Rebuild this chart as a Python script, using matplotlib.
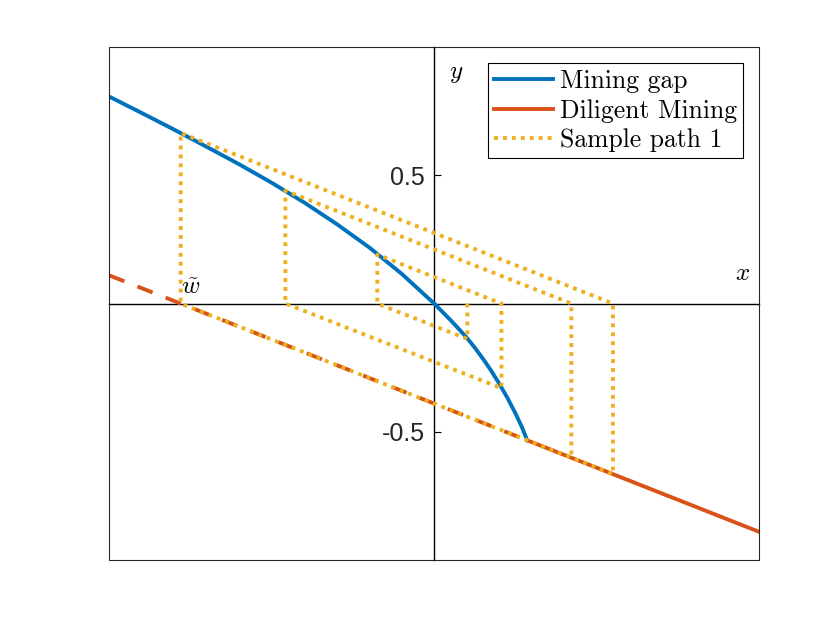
import matplotlib
matplotlib.use('Agg')
import matplotlib.pyplot as plt
from matplotlib.patches import Rectangle

plt.rcParams['mathtext.fontset'] = 'cm'
plt.rcParams['axes.unicode_minus'] = False

# mining gap curve
gap_x = [-1.0, -0.9, -0.8, -0.7, -0.6, -0.5, -0.4, -0.3, -0.2, -0.1,
         0.0, 0.05, 0.075, 0.1, 0.125, 0.15, 0.175, 0.2, 0.225, 0.25,
         0.27, 0.286]
gap_y = [0.807, 0.743, 0.678, 0.611, 0.543, 0.471, 0.394, 0.310, 0.219, 0.116,
         0.0, -0.064, -0.098, -0.133, -0.172, -0.215, -0.261, -0.312, -0.367,
         -0.428, -0.482, -0.533]

# diligent mining line: dashed part and solid part
dil_dash_x = [-1.0, 0.286]
dil_dash_y = [0.11, -0.533]
dil_x = [0.286, 1.0]
dil_y = [-0.533, -0.89]

# sample path
path_x = [0.102, 0.102, -0.175, -0.175, 0.207, 0.207, -0.458, -0.458,
          0.422, 0.422, -0.78, -0.78, 0.55, 0.55, 0.422]
path_y = [0.0, -0.138, 0.0, 0.191, 0.0, -0.33, 0.0, 0.44,
          0.0, -0.601, 0.0, 0.665, 0.0, -0.665, -0.601]

w_tilde = -0.78

blue = '#0072BD'
red = '#D95319'
orange = '#EDB120'

fig = plt.figure(figsize=(8.4, 6.3), dpi=100)
ax = fig.add_axes([0.13, 0.111, 0.7738, 0.8143])

# curves
ax.plot(gap_x, gap_y, color=blue, lw=2.8, label='Mining gap', zorder=3)
ax.plot(dil_dash_x, dil_dash_y, color=red, lw=2.8, dashes=(4.2, 3.6), zorder=3)
ax.plot(dil_x, dil_y, color=red, lw=2.8, label='Diligent Mining', zorder=3)
ax.plot(path_x, path_y, color=orange, lw=2.8, dashes=(1, 1.3),
        label='Sample path 1', zorder=4)

ax.set_xlim(-1, 1)
ax.set_ylim(-1, 1)

# axes through the origin
for s in ['top', 'right']:
    ax.spines[s].set_visible(False)
ax.spines['left'].set_position(('data', 0))
ax.spines['bottom'].set_position(('data', 0))
ax.spines['left'].set_linewidth(1.0)
ax.spines['bottom'].set_linewidth(1.0)
ax.add_patch(Rectangle((0, 0), 1, 1, transform=ax.transAxes, fill=False,
                       edgecolor='#262626', lw=0.8, zorder=5, clip_on=False))

ax.set_xticks([])
ax.set_yticks([-0.5, 0.5])
ax.set_yticklabels(['-0.5', '0.5'])
ax.tick_params(axis='y', direction='in', length=5, width=0.8, pad=6.5,
               labelsize=18, labelcolor='#262626')
for lab in ax.get_yticklabels():
    lab.set_family('Liberation Sans')

# axis labels
ax.text(0.068, 0.9, r'$y$', fontsize=18, ha='center', va='center')
ax.text(0.948, 0.12, r'$x$', fontsize=18, ha='center', va='center')
ax.text(w_tilde + 0.03, 0.065, r'$\tilde{w}$', fontsize=18,
        ha='center', va='center')

leg = ax.legend(loc='upper right', prop={'family': 'cmr10', 'size': 18.5},
                handlelength=2.3, handletextpad=0.25, borderpad=0.25,
                labelspacing=0.22, borderaxespad=0.62, fancybox=False,
                framealpha=1, edgecolor='black')
leg.get_frame().set_linewidth(0.8)

fig.savefig('out.png', dpi=100)
